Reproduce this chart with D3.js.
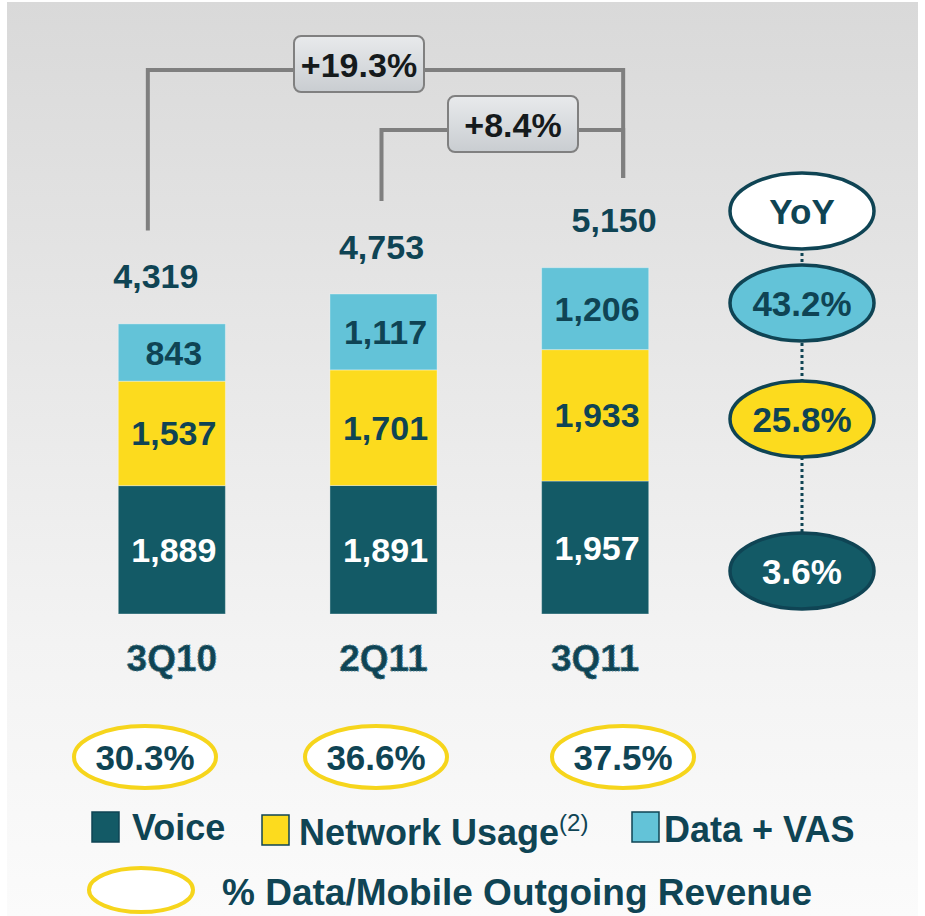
<!DOCTYPE html>
<html>
<head>
<meta charset="utf-8">
<script src="https://cdn.jsdelivr.net/npm/d3@7"></script>
<style>
  html, body { margin: 0; padding: 0; background: #fff; }
  svg text { font-family: "Liberation Sans", Arial, sans-serif; font-weight: bold; }
</style>
</head>
<body>
<div id="chart"></div>
<script>
// revenue mix per quarter
const categories = ['3Q10', '2Q11', '3Q11'];
const voice = [1889, 1891, 1957];
const network = [1537, 1701, 1933];
const dataVas = [843, 1117, 1206];
const totals = [4319, 4753, 5150];
const dataShare = ['30.3%', '36.6%', '37.5%'];
const growth = [
  { from: '3Q10', to: '3Q11', label: '+19.3%' },
  { from: '2Q11', to: '3Q11', label: '+8.4%' },
];
const yoyLabels = ['YoY', '43.2%', '25.8%', '3.6%'];
const seriesNames = ['Voice', 'Network Usage', 'Data + VAS'];

const COLORS = { voice: '#135a66', network: '#fcdb1e', data: '#63c3d8' };
const INK = '#0f4454';

const W = 925, H = 916;
const svg = d3.select('#chart').append('svg').attr('width', W).attr('height', H);

const defs = svg.append('defs');
const bg = defs.append('linearGradient').attr('id', 'bg').attr('x1', 0).attr('y1', 0).attr('x2', 0).attr('y2', 1);
bg.append('stop').attr('offset', '0%').attr('stop-color', '#d9d9d9');
bg.append('stop').attr('offset', '70%').attr('stop-color', '#f3f3f3');
bg.append('stop').attr('offset', '100%').attr('stop-color', '#fbfbfb');
const boxGrad = defs.append('linearGradient').attr('id', 'box').attr('x1', 0).attr('y1', 0).attr('x2', 0).attr('y2', 1);
boxGrad.append('stop').attr('offset', '0%').attr('stop-color', '#e8eaec');
boxGrad.append('stop').attr('offset', '100%').attr('stop-color', '#c9cdd1');

svg.append('rect').attr('width', W).attr('height', H).attr('fill', '#fff');
svg.append('rect').attr('x', 7).attr('y', 2).attr('width', W - 14).attr('height', H - 2).attr('fill', 'url(#bg)');

const x = d3.scaleBand().domain(categories).range([66, 701]).paddingInner(0.494).paddingOuter(0.247);
const y = d3.scaleLinear().domain([0, 5150]).range([614, 264]);
const cx = c => x(c) + x.bandwidth() / 2;

const rows = categories.map((c, i) => ({ cat: c, voice: voice[i], network: network[i], data: dataVas[i] }));
const stack = d3.stack().keys(['voice', 'network', 'data'])(rows);

// bars
const barG = svg.append('g');
stack.forEach(layer => {
  barG.selectAll(null).data(layer).enter().append('rect')
    .attr('x', d => x(d.data.cat))
    .attr('y', d => y(d[1]))
    .attr('width', x.bandwidth())
    .attr('height', d => y(d[0]) - y(d[1]))
    .attr('fill', COLORS[layer.key])
    .attr('stroke', 'rgba(255,255,255,0.35)')
    .attr('stroke-width', 1);

  barG.selectAll(null).data(layer).enter().append('text')
    .attr('x', d => cx(d.data.cat) + 2)
    .attr('y', d => (y(d[0]) + y(d[1])) / 2 + 12)
    .attr('text-anchor', 'middle')
    .attr('font-size', 34)
    .attr('fill', layer.key === 'voice' ? '#fff' : INK)
    .text(d => d3.format(',')(d[1] - d[0]));
});

// totals above bars
const totalDx = [-16, -2, 19];
svg.selectAll(null).data(categories).enter().append('text')
  .attr('x', (c, i) => cx(c) + totalDx[i])
  .attr('y', (c, i) => y(totals[i]) - 32)
  .attr('text-anchor', 'middle')
  .attr('font-size', 34)
  .attr('fill', INK)
  .text((c, i) => d3.format(',')(totals[i]));

// category labels
svg.selectAll(null).data(categories).enter().append('text')
  .attr('x', c => cx(c))
  .attr('y', 671)
  .attr('text-anchor', 'middle')
  .attr('font-size', 37)
  .attr('fill', INK)
  .attr('stroke', '#4f8190')
  .attr('stroke-width', 1)
  .attr('stroke-dasharray', '1.5,1.5')
  .text(c => c);

// growth brackets
const bracketX = { '3Q10': cx('3Q10') - 24, '2Q11': cx('2Q11') - 2, '3Q11': cx('3Q11') + 28 };
const bracketTop = [70, 130];
const boxCx = [359, 513];
growth.forEach((g, i) => {
  const i0 = categories.indexOf(g.from), i1 = categories.indexOf(g.to);
  const x0 = bracketX[g.from], x1 = bracketX[g.to];
  const yt = bracketTop[i];
  svg.append('path')
    .attr('d', `M${x0},${y(totals[i0]) - 90}V${yt}H${x1}V${y(totals[i1]) - 86}`)
    .attr('fill', 'none')
    .attr('stroke', '#7f7f7f')
    .attr('stroke-width', 4);
  svg.append('rect')
    .attr('x', boxCx[i] - 65).attr('y', yt - 34)
    .attr('width', 130).attr('height', 56)
    .attr('rx', 7)
    .attr('fill', 'url(#box)')
    .attr('stroke', '#808080').attr('stroke-width', 2);
  svg.append('text')
    .attr('x', boxCx[i]).attr('y', yt + 7)
    .attr('text-anchor', 'middle')
    .attr('font-size', 34)
    .attr('fill', '#151a1c')
    .text(g.label);
});

// YoY column
const yoyCy = [211, 303, 419, 571];
const yoyFill = ['#fff', COLORS.data, COLORS.network, COLORS.voice];
svg.append('line')
  .attr('x1', 802).attr('x2', 802)
  .attr('y1', yoyCy[0]).attr('y2', yoyCy[3])
  .attr('stroke', INK).attr('stroke-width', 3)
  .attr('stroke-dasharray', '3,3');
yoyLabels.forEach((t, i) => {
  svg.append('ellipse')
    .attr('cx', 802).attr('cy', yoyCy[i])
    .attr('rx', 72).attr('ry', 38)
    .attr('fill', yoyFill[i])
    .attr('stroke', INK).attr('stroke-width', 3.5);
  svg.append('text')
    .attr('x', 802).attr('y', yoyCy[i] + 13)
    .attr('text-anchor', 'middle')
    .attr('font-size', 35)
    .attr('fill', i === 3 ? '#fff' : INK)
    .text(t);
});

// data share ellipses
const shareCx = [145, 376, 623];
dataShare.forEach((t, i) => {
  svg.append('ellipse')
    .attr('cx', shareCx[i]).attr('cy', 757)
    .attr('rx', 71).attr('ry', 31)
    .attr('fill', '#fff')
    .attr('stroke', '#f6d51c').attr('stroke-width', 4);
  svg.append('text')
    .attr('x', shareCx[i]).attr('y', 770)
    .attr('text-anchor', 'middle')
    .attr('font-size', 35)
    .attr('fill', INK)
    .text(t);
});

// legend
const legendPos = [
  { sx: 92, sy: 812, tx: 132, ty: 840 },
  { sx: 262, sy: 815, tx: 299, ty: 845 },
  { sx: 632, sy: 812, tx: 664, ty: 842 },
];
const legendColors = [COLORS.voice, COLORS.network, COLORS.data];
seriesNames.forEach((name, i) => {
  const p = legendPos[i];
  svg.append('rect')
    .attr('x', p.sx).attr('y', p.sy)
    .attr('width', 27).attr('height', 30)
    .attr('fill', legendColors[i])
    .attr('stroke', INK).attr('stroke-width', 1.5);
  const t = svg.append('text')
    .attr('x', p.tx).attr('y', p.ty)
    .attr('font-size', 36)
    .attr('fill', INK)
    .text(name);
  if (i === 1) {
    t.append('tspan').attr('font-size', 24).attr('font-weight', 'normal').attr('dy', -14).text('(2)');
  }
});

svg.append('ellipse')
  .attr('cx', 141).attr('cy', 890)
  .attr('rx', 52).attr('ry', 22)
  .attr('fill', '#fff')
  .attr('stroke', '#f6d51c').attr('stroke-width', 4);
svg.append('text')
  .attr('x', 222).attr('y', 905)
  .attr('font-size', 37)
  .attr('fill', INK)
  .text('% Data/Mobile Outgoing Revenue');
</script>
</body>
</html>
